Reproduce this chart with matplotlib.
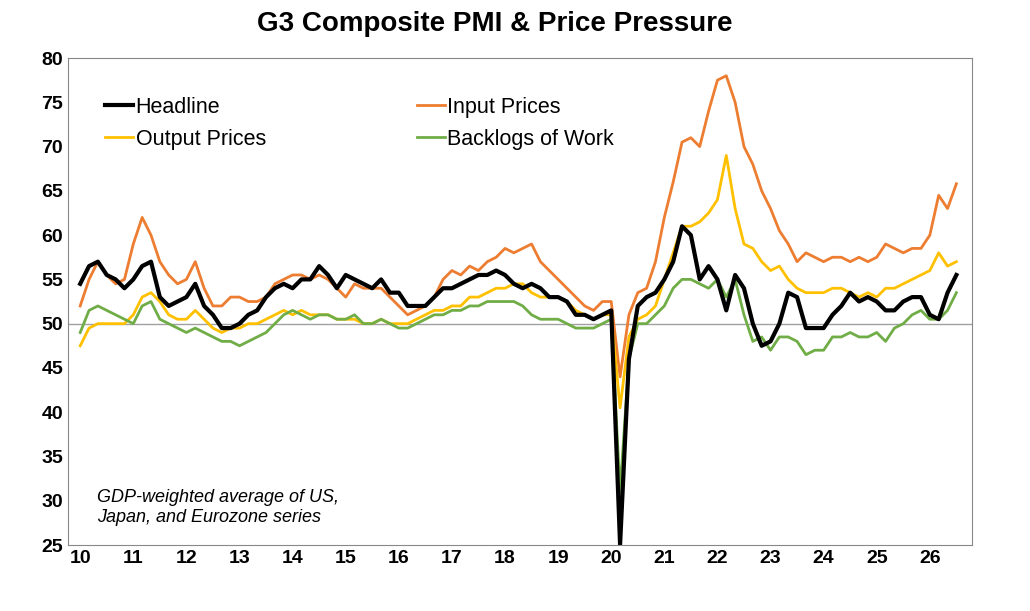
import numpy as np
import matplotlib
matplotlib.use("Agg")
import matplotlib.pyplot as plt
plt.rcParams['font.family'] = ['Liberation Sans', 'DejaVu Sans']

headline = [54.5,56.5,57,55.5,55,54, 55,56.5,57,53,52,52.5, 53,54.5,52,51,49.5,49.5,
 50,51,51.5,53,54,54.5, 54,55,55,56.5,55.5,54, 55.5,55,54.5,54,55,53.5,
 53.5,52,52,52,53,54, 54,54.5,55,55.5,55.5,56, 55.5,54.5,54,54.5,54,53,
 53,52.5,51,51,50.5,51, 51.5,25,46,52,53,53.5, 55,57,61,60,55,56.5,
 55,51.5,55.5,54,50,47.5, 48,50,53.5,53,49.5,49.5, 49.5,51,52,53.5,52.5,53,
 52.5,51.5,51.5,52.5,53,53, 51,50.5,53.5,55.5]
input_prices = [52,55,57,55.5,54.5,55, 59,62,60,57,55.5,54.5, 55,57,54,52,52,53,
 53,52.5,52.5,53,54.5,55, 55.5,55.5,55,55.5,55,54, 53,54.5,54,54,54,53,
 52,51,51.5,52,53,55, 56,55.5,56.5,56,57,57.5, 58.5,58,58.5,59,57,56,
 55,54,53,52,51.5,52.5, 52.5,44,51,53.5,54,57, 62,66,70.5,71,70,74,
 77.5,78,75,70,68,65, 63,60.5,59,57,58,57.5, 57,57.5,57.5,57,57.5,57,
 57.5,59,58.5,58,58.5,58.5, 60,64.5,63,65.8]
output_prices = [47.5,49.5,50,50,50,50, 51,53,53.5,52.5,51,50.5, 50.5,51.5,50.5,49.5,49,49.5,
 49.5,50,50,50.5,51,51.5, 51,51.5,51,51,51,50.5, 50.5,50.5,50,50,50.5,50,
 50,50,50.5,51,51.5,51.5, 52,52,53,53,53.5,54, 54,54.5,54.5,53.5,53,53,
 53,52.5,51.5,51,50.5,51, 51,40.5,48.5,50.5,51,52, 55,58,61,61,61.5,62.5,
 64,69,63,59,58.5,57, 56,56.5,55,54,53.5,53.5, 53.5,54,54,53.5,53,53.5,
 53,54,54,54.5,55,55.5, 56,58,56.5,57]
backlogs = [49,51.5,52,51.5,51,50.5, 50,52,52.5,50.5,50,49.5, 49,49.5,49,48.5,48,48,
 47.5,48,48.5,49,50,51, 51.5,51,50.5,51,51,50.5, 50.5,51,50,50,50.5,50,
 49.5,49.5,50,50.5,51,51, 51.5,51.5,52,52,52.5,52.5, 52.5,52.5,52,51,50.5,50.5,
 50.5,50,49.5,49.5,49.5,50, 50.5,31,46,50,50,51, 52,54,55,55,54.5,54,
 55,53,55,51,48,48.5, 47,48.5,48.5,48,46.5,47, 47,48.5,48.5,49,48.5,48.5,
 49,48,49.5,50,51,51.5, 50.5,50.5,51.5,53.5]
year_labels = [str(y) for y in range(10, 27)]

t = 2010 + np.arange(len(headline)) / 6.0

fig = plt.figure(figsize=(10.30, 6.11), dpi=100)
ax = fig.add_axes([0.066, 0.108, 0.878, 0.797])
ax.axhline(50, color="#a0a0a0", lw=1)
ax.plot(t, input_prices, color="#ed7d31", lw=2, label="Input Prices")
ax.plot(t, output_prices, color="#ffc000", lw=2, label="Output Prices")
ax.plot(t, backlogs, color="#70ad47", lw=2, label="Backlogs of Work")
ax.plot(t, headline, color="black", lw=3, label="Headline")
ax.set_xlim(2009.77, 2026.8)
ax.set_ylim(25, 80)
ax.set_yticks(range(25, 81, 5))
ax.set_xticks(np.arange(2010, 2027))
ax.set_xticklabels(year_labels)
ax.tick_params(axis="both", length=0, labelsize=14)
for lab in ax.get_xticklabels() + ax.get_yticklabels():
    lab.set_fontweight("bold")
for s in ax.spines.values():
    s.set_color("#888888")
h, l = ax.get_legend_handles_labels()
order = [3, 1, 0, 2]
ax.legend([h[i] for i in order], [l[i] for i in order], ncol=2, frameon=False,
          fontsize=15.5, loc="upper left", bbox_to_anchor=(0.02, 0.96),
          handlelength=1.3, handletextpad=0.1, columnspacing=7.0, labelspacing=0.5)
ax.text(0.032, 0.04, "GDP-weighted average of US,\nJapan, and Eurozone series",
        transform=ax.transAxes, fontsize=13, style="italic", va="bottom")
fig.text(0.48, 0.95, "G3 Composite PMI & Price Pressure", ha="center",
         fontsize=20, fontweight="bold")
fig.savefig("out.png", dpi=100)
